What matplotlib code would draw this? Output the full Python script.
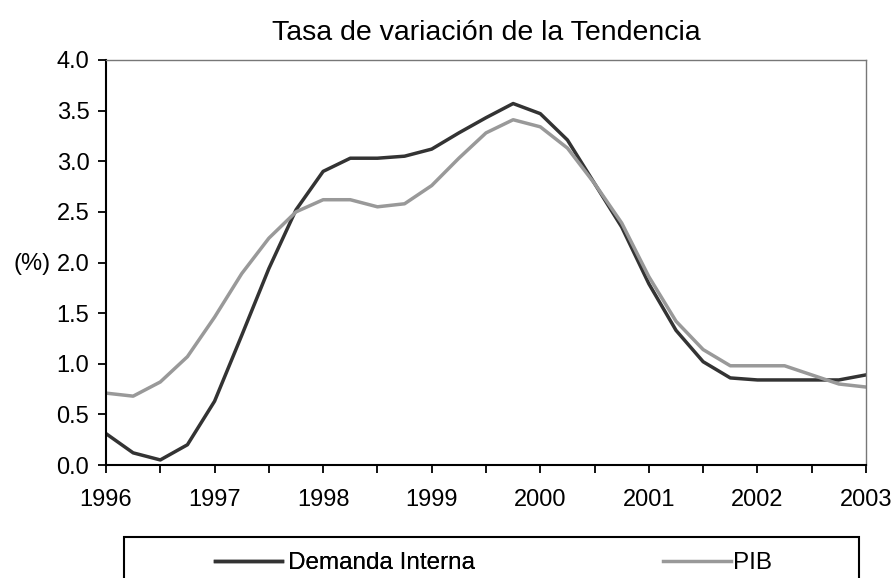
import numpy as np
import matplotlib
matplotlib.use("Agg")
import matplotlib.pyplot as plt
from matplotlib import font_manager
from matplotlib.patches import Rectangle

plt.rcParams["font.family"] = ["Liberation Sans", "DejaVu Sans"]

# quarterly points, 1996 Q1 .. 2003 Q1
years = np.arange(29) / 4 + 1996
demanda_interna = [0.31, 0.12, 0.05, 0.20, 0.63, 1.28, 1.94, 2.52, 2.90, 3.03,
                   3.03, 3.05, 3.12, 3.28, 3.43, 3.57, 3.47, 3.21, 2.78, 2.35,
                   1.79, 1.33, 1.02, 0.86, 0.84, 0.84, 0.84, 0.84, 0.89]
pib = [0.71, 0.68, 0.82, 1.07, 1.46, 1.89, 2.24, 2.50, 2.62, 2.62,
       2.55, 2.58, 2.76, 3.03, 3.28, 3.41, 3.34, 3.13, 2.78, 2.39,
       1.86, 1.42, 1.14, 0.98, 0.98, 0.98, 0.89, 0.80, 0.77]
year_labels = [str(y) for y in range(1996, 2004)]

W, H = 896, 578
fig = plt.figure(figsize=(W / 100, H / 100), dpi=100)
ax = fig.add_axes([106 / W, 1 - 465 / H, 760 / W, 405 / H])

ax.plot(years, demanda_interna, color="#333333", lw=2.5, label="Demanda Interna")
ax.plot(years, pib, color="#999999", lw=2.5, label="PIB")

ax.set_xlim(1996, 2003)
ax.set_ylim(0, 4)
half_years = np.arange(1996, 2003.01, 0.5)
ax.set_xticks(half_years)
xlabels = []
for i in range(len(half_years)):
    xlabels.append(year_labels[i // 2] if i % 2 == 0 else "")
ax.set_xticklabels(xlabels)
yvals = np.arange(0, 4.01, 0.5)
ax.set_yticks(yvals)
ax.set_yticklabels([f"{v:.1f}" for v in yvals])
ax.tick_params(axis="both", direction="out", length=6, width=1.3, labelsize=17,
               color="black")
ax.tick_params(axis="y", pad=6)
ax.tick_params(axis="x", pad=11)

for side in ["left", "bottom"]:
    ax.spines[side].set_linewidth(1.5)
    ax.spines[side].set_color("black")
for side in ["top", "right"]:
    ax.spines[side].set_linewidth(1.0)
    ax.spines[side].set_color("#777777")

fig.text(486 / W, 1 - 33 / H, "Tasa de variación de la Tendencia", ha="center",
         va="center", fontsize=20.5)
fig.text(51 / W, 1 - 264 / H, "(%)", ha="right", va="center", fontsize=17)

# legend font: narrow face if available
names = {f.name for f in font_manager.fontManager.ttflist}
if "Liberation Sans Narrow" in names:
    leg_font = {"family": "Liberation Sans Narrow", "size": 21}
else:
    leg_font = {"family": "Liberation Sans", "size": 17.5}
em = leg_font["size"] * 100 / 72

# legend box, cut off by the lower edge of the figure
fig.patches.append(Rectangle((124 / W, -0.05), 735 / W, 0.05 + 1 - 537 / H,
                             transform=fig.transFigure, fill=False,
                             edgecolor="black", lw=1.5))
h1, l1 = ax.get_legend_handles_labels()
leg1 = fig.legend(h1[:1], l1[:1], loc="center left",
                  bbox_to_anchor=(215 / W, 1 - 563 / H), frameon=False,
                  prop=leg_font, handlelength=67 / em, handletextpad=6 / em,
                  borderpad=0, borderaxespad=0)
leg2 = fig.legend(h1[1:], l1[1:], loc="center left",
                  bbox_to_anchor=(663 / W, 1 - 563 / H), frameon=False,
                  prop=leg_font, handlelength=68 / em, handletextpad=2 / em,
                  borderpad=0, borderaxespad=0)
fig.add_artist(leg1)

fig.savefig("out.png", dpi=100)
